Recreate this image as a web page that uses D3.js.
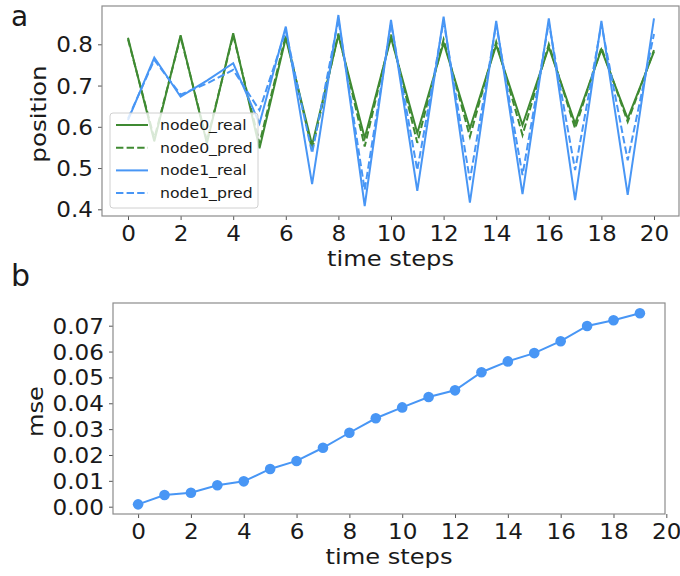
<!DOCTYPE html>
<html><head><meta charset="utf-8">
<script src="https://cdn.jsdelivr.net/npm/d3@7"></script>
<style>body{margin:0;background:#fff}svg{display:block}text{font-family:"DejaVu Sans",sans-serif;fill:#1a1a1a}</style>
</head><body><svg id="c" width="680" height="576"></svg>
<script>
const steps = d3.range(0, 21);
const node0_real = [0.816,0.565,0.822,0.560,0.827,0.548,0.815,0.556,0.822,0.573,0.816,0.585,0.803,0.596,0.798,0.604,0.793,0.608,0.787,0.620,0.782];
const node0_pred = [0.812,0.572,0.818,0.566,0.822,0.560,0.822,0.544,0.826,0.552,0.823,0.561,0.812,0.576,0.806,0.580,0.800,0.596,0.792,0.612,0.786];
const node1_real = [0.616,0.768,0.673,0.712,0.754,0.608,0.843,0.461,0.871,0.408,0.859,0.445,0.867,0.416,0.857,0.437,0.863,0.422,0.857,0.435,0.863];
const node1_pred = [0.620,0.762,0.678,0.705,0.738,0.640,0.832,0.536,0.860,0.447,0.850,0.495,0.856,0.471,0.848,0.483,0.852,0.495,0.848,0.519,0.825];
const mseSteps = d3.range(0, 20);
const mse = [0.0009,0.0045,0.0054,0.0083,0.0098,0.0146,0.0177,0.0228,0.0286,0.0342,0.0384,0.0424,0.0450,0.0520,0.0562,0.0594,0.0640,0.0699,0.0721,0.0748];
const xTicks = [0,2,4,6,8,10,12,14,16,18,20];
const posTicks = [0.4,0.5,0.6,0.7,0.8];
const mseTicks = [0,0.01,0.02,0.03,0.04,0.05,0.06,0.07];

const GREEN = "#3f8a32", BLUE = "#4896f5";
const svg = d3.select("#c");

function stretch(sel, f){
  sel.each(function(){
    const w = this.getComputedTextLength();
    d3.select(this).attr("textLength", w*f).attr("lengthAdjust","spacingAndGlyphs");
  });
}
function frame(g, x0, y0, x1, y1){
  g.append("rect").attr("x",x0).attr("y",y0).attr("width",x1-x0).attr("height",y1-y0)
   .attr("fill","none").attr("stroke","#8c8c8c").attr("stroke-width",1.2);
}
function styleAxis(sel){
  sel.select(".domain").remove();
  sel.selectAll(".tick line").attr("stroke","#555").attr("stroke-width",1);
  sel.selectAll(".tick text").attr("font-size","21px").attr("fill","#1a1a1a").style("font-family","DejaVu Sans");
  stretch(sel.selectAll(".tick text"), 1.1);
}

// ---- Panel a ----
const A = {l:102, t:6, r:679, b:216};
const xa = d3.scaleLinear().domain([(A.l-128)/26.3, (A.r-128)/26.3]).range([A.l, A.r]);
const ya = d3.scaleLinear().domain([0.4 - (A.b-209.3)/412.5, 0.8 + (44.3-A.t)/412.5]).range([A.b, A.t]);
const ga = svg.append("g");
svg.append("clipPath").attr("id","ca").append("rect").attr("x",A.l).attr("y",A.t).attr("width",A.r-A.l).attr("height",A.b-A.t);
const lineA = (arr)=> d3.line().x((d,i)=>xa(steps[i])).y(d=>ya(d))(arr);
const series = [
  {name:"node0_real", data:node0_real, color:GREEN, dash:null},
  {name:"node0_pred", data:node0_pred, color:GREEN, dash:"7.4,3.2"},
  {name:"node1_real", data:node1_real, color:BLUE, dash:null},
  {name:"node1_pred", data:node1_pred, color:BLUE, dash:"7.4,3.2"}
];
const pg = ga.append("g").attr("clip-path","url(#ca)");
series.forEach(s=>{
  pg.append("path").attr("d", lineA(s.data)).attr("fill","none").attr("stroke",s.color)
    .attr("stroke-width",2).attr("stroke-dasharray",s.dash).attr("stroke-linejoin","miter");
});
const axA = ga.append("g").attr("transform",`translate(0,${A.b})`).call(d3.axisBottom(xa).tickValues(xTicks).tickSize(4).tickPadding(6).tickFormat(d3.format("d")));
styleAxis(axA);
const ayA = ga.append("g").attr("transform",`translate(${A.l},0)`).call(d3.axisLeft(ya).tickValues(posTicks).tickSize(4).tickPadding(5).tickFormat(d3.format(".1f")));
styleAxis(ayA);
ayA.selectAll(".tick text").attr("dy","0.36em");
// legend
const lg = ga.append("g");
lg.append("rect").attr("x",110).attr("y",113).attr("width",148).attr("height",95).attr("rx",3)
  .attr("fill","rgba(255,255,255,0.8)").attr("stroke","#d0d0d0").attr("stroke-width",1);
series.forEach((s,i)=>{
  const yy = 125 + i*22.7;
  lg.append("line").attr("x1",116).attr("x2",148).attr("y1",yy).attr("y2",yy)
    .attr("stroke",s.color).attr("stroke-width",2).attr("stroke-dasharray",s.dash);
  const t = lg.append("text").attr("x",160).attr("y",yy).attr("dy","0.35em").attr("font-size","14px").text(s.name);
  stretch(t, 1.12);
});
frame(ga, A.l, A.t, A.r, A.b);
stretch(ga.append("text").attr("x",(A.l+A.r)/2).attr("y",266).attr("text-anchor","middle").attr("font-size","21px").text("time steps"), 1.15);
stretch(ga.append("text").attr("transform",`translate(46,${(A.t+A.b)/2+3}) rotate(-90)`).attr("text-anchor","middle").attr("font-size","21px").text("position"), 1.17);
svg.append("text").attr("x",11).attr("y",26).attr("font-size","28px").text("a");

// ---- Panel b ----
const B = {l:113, t:303, r:665, b:514};
const xb = d3.scaleLinear().domain([-0.95, 19.95]).range([B.l, B.r]);
const yb = d3.scaleLinear().domain([-(B.b-506.7)/2586, 0.07 + (325.7-B.t)/2586]).range([B.b, B.t]);
const gb = svg.append("g");
gb.append("path").attr("d", d3.line().x((d,i)=>xb(mseSteps[i])).y(d=>yb(d))(mse))
  .attr("fill","none").attr("stroke",BLUE).attr("stroke-width",2);
gb.selectAll("circle").data(mse).join("circle").attr("cx",(d,i)=>xb(mseSteps[i])).attr("cy",d=>yb(d)).attr("r",5.3).attr("fill",BLUE);
const axB = gb.append("g").attr("transform",`translate(0,${B.b})`).call(d3.axisBottom(xb).tickValues(xTicks).tickSize(4).tickPadding(6).tickFormat(d3.format("d")));
styleAxis(axB);
const ayB = gb.append("g").attr("transform",`translate(${B.l},0)`).call(d3.axisLeft(yb).tickValues(mseTicks).tickSize(4).tickPadding(5).tickFormat(d3.format(".2f")));
styleAxis(ayB);
ayB.selectAll(".tick text").attr("dy","0.36em");
frame(gb, B.l, B.t, B.r, B.b);
stretch(gb.append("text").attr("x",(B.l+B.r)/2).attr("y",564).attr("text-anchor","middle").attr("font-size","21px").text("time steps"), 1.15);
stretch(gb.append("text").attr("transform",`translate(43,${(B.t+B.b)/2+3}) rotate(-90)`).attr("text-anchor","middle").attr("font-size","21px").text("mse"), 1.15);
svg.append("text").attr("x",11).attr("y",286).attr("font-size","30px").text("b");
</script></body></html>
